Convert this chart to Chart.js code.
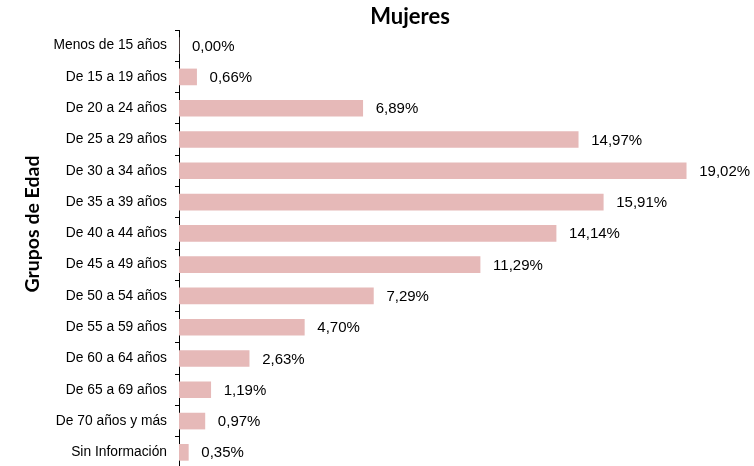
<!DOCTYPE html>
<html>
<head>
<meta charset="utf-8">
<script src="https://cdn.jsdelivr.net/npm/chart.js@4/dist/chart.umd.min.js"></script>
<style>
  html, body { margin: 0; padding: 0; background: #fff; overflow: hidden; }
  #wrap { width: 754px; height: 468px; position: relative; }
</style>
</head>
<body>
<div id="wrap"><canvas id="chart"></canvas></div>
<script>
const categories = [
    "Menos de 15 años", "De 15 a 19 años", "De 20 a 24 años", "De 25 a 29 años",
    "De 30 a 34 años", "De 35 a 39 años", "De 40 a 44 años", "De 45 a 49 años",
    "De 50 a 54 años", "De 55 a 59 años", "De 60 a 64 años", "De 65 a 69 años",
    "De 70 años y más", "Sin Información"
]
const mujeres = [0.00, 0.66, 6.89, 14.97, 19.02, 15.91, 14.14, 11.29, 7.29, 4.70, 2.63, 1.19, 0.97, 0.35]

const chartTitle = "Mujeres"
const axisTitle = "Grupos de Edad"

function fmtPct(v) {
    return v.toFixed(2).replace(".", ",") + "%"
}

// value labels at the end of each bar
function valueLabelsPlugin() {
    return {
        id: "valueLabels",
        afterDatasetsDraw: (chart) => {
            const { ctx } = chart
            const meta = chart.getDatasetMeta(0)
            const data = chart.data.datasets[0].data

            ctx.save()
            ctx.font = "15px 'Liberation Sans', Arial, sans-serif"
            ctx.fillStyle = "#000"
            ctx.textAlign = "left"
            ctx.textBaseline = "middle"
            meta.data.forEach((bar, i) => {
                ctx.fillText(fmtPct(data[i]), bar.x + 13, bar.y + 1)
            })
            ctx.restore()
        }
    }
}

// chart title and rotated axis title
function titlesPlugin() {
    return {
        id: "titles",
        afterDraw: (chart) => {
            const { ctx } = chart

            ctx.save()
            ctx.fillStyle = "#000"
            ctx.textAlign = "center"
            ctx.textBaseline = "middle"
            ctx.font = "bold 22px Lato, 'Open Sans', sans-serif"
            ctx.fillText(chartTitle, 410, 17)

            ctx.translate(33, 224)
            ctx.rotate(-Math.PI / 2)
            ctx.font = "bold 19.5px Lato, 'Open Sans', sans-serif"
            ctx.fillText(axisTitle, 0, 0)
            ctx.restore()
        }
    }
}

new Chart(document.getElementById("chart").getContext("2d"), {
    type: "bar",
    data: {
        labels: categories,
        datasets: [{
            label: chartTitle,
            data: mujeres,
            backgroundColor: "#E6B9B8",
            borderWidth: 0,
            barThickness: 16
        }]
    },
    options: {
        indexAxis: "y",
        responsive: true,
        maintainAspectRatio: false,
        animation: false,
        layout: {
            padding: { left: 0, top: 30, right: 15, bottom: 0 }
        },
        plugins: {
            legend: { display: false },
            title: { display: false },
            tooltip: { enabled: false }
        },
        scales: {
            x: {
                display: false,
                min: 0,
                max: 21
            },
            y: {
                afterFit: (scale) => {
                    scale.width = 179
                    // no extra room for half label heights
                    scale.paddingTop = 0
                    scale.paddingBottom = 0
                },
                grid: {
                    offset: true,
                    drawOnChartArea: false,
                    tickLength: 4,
                    color: "#000"
                },
                border: { color: "#000", width: 1 },
                ticks: {
                    padding: 8,
                    color: "#000",
                    font: { family: "'Liberation Sans', Arial, sans-serif", size: 13.8 }
                }
            }
        }
    },
    plugins: [valueLabelsPlugin(), titlesPlugin()]
})
</script>
</body>
</html>
